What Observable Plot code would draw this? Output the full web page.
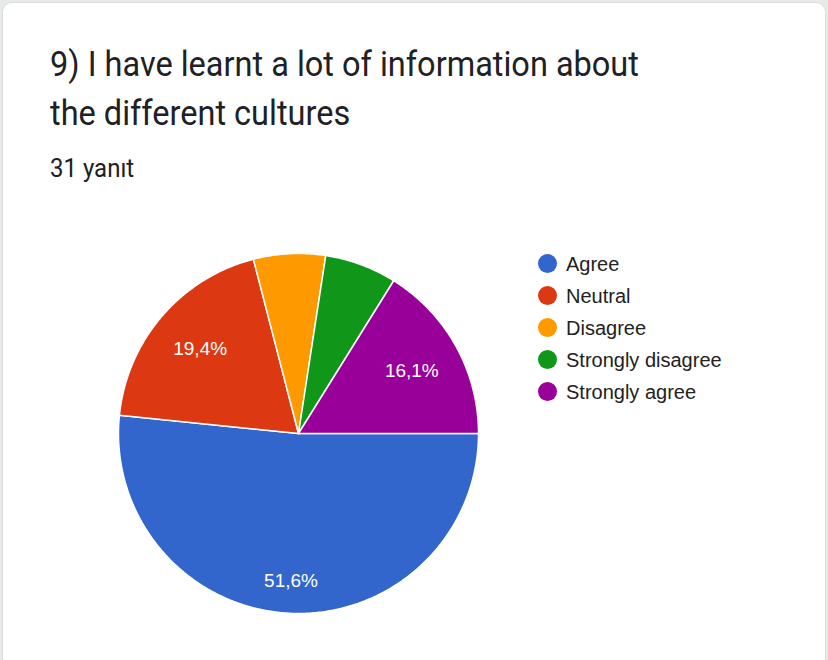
<!DOCTYPE html>
<html>
<head>
<meta charset="utf-8">
<script src="https://cdn.jsdelivr.net/npm/d3@7"></script>
<script src="https://cdn.jsdelivr.net/npm/@observablehq/plot@0.6"></script>
<style>
  html, body { margin: 0; padding: 0; }
  body { width: 828px; height: 660px; background: #e6ebe6; position: relative; overflow: hidden; }
  #card { position: absolute; left: 2px; top: 2px; width: 822px; height: 700px; background: #fff;
          border: 1px solid #dadce0; border-radius: 10px; }
  #title { position: absolute; left: 50px; top: 40px; font-family: Roboto, sans-serif; font-size: 32.5px;
           line-height: 44px; color: #202124; transform: scaleY(1.1); transform-origin: 0 0; white-space: nowrap; }
  #sub { position: absolute; left: 50px; top: 156px; font-family: Roboto, sans-serif; font-size: 24px; line-height: 24px;
         color: #202124; transform: scaleY(1.05); transform-origin: 0 0; }
  #chart { position: absolute; left: 0; top: 200px; }
  #legend { position: absolute; left: 538px; top: 253px; font-family: "Liberation Sans", Arial, sans-serif;
            font-size: 20px; color: #222; }
  .row { height: 32px; display: flex; align-items: flex-start; }
  .sw { width: 19px; height: 19px; border-radius: 50%; margin-right: 9px; margin-top: 1px; }
</style>
</head>
<body>
<div id="card"></div>
<div id="title">9) I have learnt a lot of information about<br>the different cultures</div>
<div id="sub">31 yanıt</div>
<div id="chart"></div>
<div id="legend"></div>
<script>
const categories = ["Agree", "Neutral", "Disagree", "Strongly disagree", "Strongly agree"];
const counts = [16, 6, 2, 2, 5];
const colors = ["#3366cc", "#dc3912", "#ff9900", "#109618", "#990099"];

const total = d3.sum(counts);
const pie = d3.pie().sort(null).value(d => d)(counts);

// polygon points per slice (unit circle, clockwise from east)
const poly = [];
const labels = [];
pie.forEach((p, i) => {
  const a0 = p.startAngle, a1 = p.endAngle; // 0..2π
  const n = Math.max(2, Math.ceil((a1 - a0) / 0.01));
  poly.push({cat: categories[i], x: 0, y: 0});
  for (let k = 0; k <= n; k++) {
    const a = a0 + (a1 - a0) * k / n;
    poly.push({cat: categories[i], x: Math.cos(-a), y: Math.sin(-a)});
  }
  poly.push({cat: categories[i], x: 0, y: 0});
  const frac = counts[i] / total;
  if (frac > 0.1) {
    const m = (a0 + a1) / 2;
    const r = frac > 0.5 ? 0.82 : 0.72;
    labels.push({cat: categories[i], x: r * Math.cos(-m), y: r * Math.sin(-m),
                 text: (frac * 100).toFixed(1).replace(".", ",") + "%"});
  }
});

const chart = Plot.plot({
  width: 828,
  height: 460,
  margin: 0,
  x: {domain: [-1, 1], range: [118, 478], axis: null},
  y: {domain: [-1, 1], range: [413, 53], axis: null},
  color: {domain: categories, range: colors},
  style: {background: "transparent"},
  marks: [
    Plot.line(poly, {x: "x", y: "y", z: "cat", fill: "cat", stroke: "white", strokeWidth: 1.5, curve: "linear"}),
    Plot.text(labels, {x: "x", y: "y", text: "text", fill: "white", fontSize: 19,
                       fontFamily: "Liberation Sans, Arial, sans-serif"})
  ]
});
document.getElementById("chart").appendChild(chart);

const leg = document.getElementById("legend");
categories.forEach((c, i) => {
  const row = document.createElement("div");
  row.className = "row";
  const sw = document.createElement("div");
  sw.className = "sw";
  sw.style.background = colors[i];
  const t = document.createElement("span");
  t.textContent = c;
  row.appendChild(sw); row.appendChild(t);
  leg.appendChild(row);
});
</script>
</body>
</html>
